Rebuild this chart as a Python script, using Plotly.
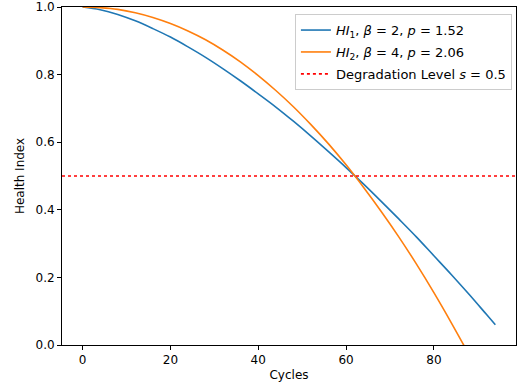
import plotly.graph_objects as go

cycles = [0, 4, 8, 12, 16, 20, 24, 28, 32, 36, 40, 44, 48, 52, 56, 60, 64, 68, 72, 76, 80, 84, 88, 92, 94]
hi1 = [1.0, 0.992, 0.978, 0.959, 0.936, 0.911, 0.882, 0.851, 0.817, 0.781, 0.743, 0.704, 0.662,
       0.618, 0.572, 0.525, 0.476, 0.425, 0.373, 0.320, 0.264, 0.208, 0.150, 0.090, 0.060]
hi2 = [1.0, 0.998, 0.993, 0.983, 0.969, 0.951, 0.929, 0.903, 0.872, 0.837, 0.797, 0.753, 0.705,
       0.652, 0.595, 0.533, 0.466, 0.395, 0.320, 0.240, 0.155, 0.065, -0.029, -0.127, -0.178]
degradation_level = 0.5
labels = ["<i>HI</i><sub>1</sub>, <i>β</i> = 2, <i>p</i> = 1.52",
          "<i>HI</i><sub>2</sub>, <i>β</i> = 4, <i>p</i> = 2.06",
          "Degradation Level <i>s</i> = 0.5"]
x_ticks = [0, 20, 40, 60, 80]
y_ticks = [0.0, 0.2, 0.4, 0.6, 0.8, 1.0]

span = max(cycles) - min(cycles)
x_range = [min(cycles) - 0.05 * span, max(cycles) + 0.05 * span]

fig = go.Figure()
fig.add_trace(go.Scatter(x=cycles, y=hi1, mode="lines", line=dict(color="#1f77b4", width=1.6, shape="spline"),
                         name=labels[0], legendgroup="a"))
fig.add_trace(go.Scatter(x=cycles, y=hi2, mode="lines", line=dict(color="#ff7f0e", width=1.6, shape="spline"),
                         name=labels[1], legendgroup="b"))
fig.add_trace(go.Scatter(x=x_range, y=[degradation_level] * 2, mode="lines",
                         line=dict(color="red", width=1.6, dash="dot"), name=labels[2], legendgroup="c"))

axis_common = dict(showgrid=False, zeroline=False, showline=True, linecolor="black", linewidth=1,
                   mirror=True, ticks="outside", ticklen=4, tickcolor="black",
                   ticklabeloverflow="allow", tickfont=dict(size=12, color="black"))
fig.update_layout(
    width=518, height=389,
    margin=dict(l=62, r=2, t=7, b=44),
    paper_bgcolor="white", plot_bgcolor="white",
    font=dict(family="DejaVu Sans", size=12, color="black"),
    xaxis=dict(range=x_range, tickvals=x_ticks, automargin="bottom",
               title=dict(text="Cycles", standoff=4, font=dict(size=12)), **axis_common),
    yaxis=dict(range=[0, 1], tickvals=y_ticks, tickformat=".1f", automargin="left",
               title=dict(text="Health Index", standoff=8, font=dict(size=12)), **axis_common),
    legend=dict(x=0.991, y=0.979, xanchor="right", yanchor="top", bgcolor="rgba(255,255,255,0.8)",
                bordercolor="#cccccc", borderwidth=1, font=dict(size=13), tracegroupgap=2,
                itemwidth=30),
    showlegend=True,
)
fig.write_html("out.html")
